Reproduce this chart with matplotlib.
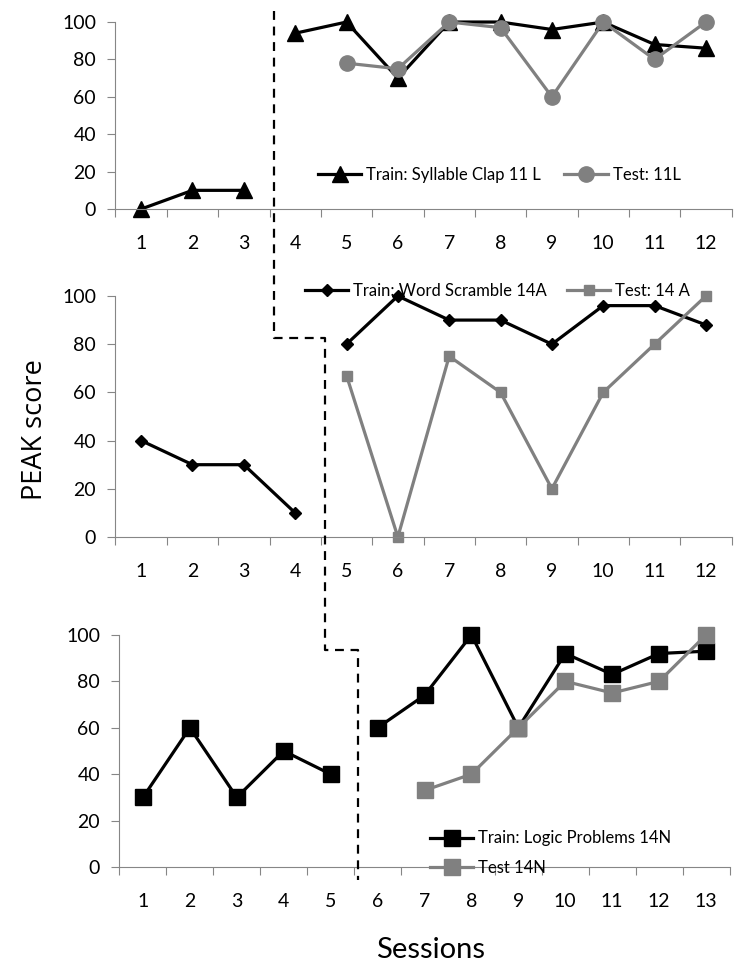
import matplotlib.pyplot as plt
from matplotlib.lines import Line2D

# panel 1: Syllable Clap 11 L
s1 = list(range(1, 13))
train1_base = [0, 10, 10]
train1_int = [94, 100, 70, 100, 100, 96, 100, 88, 86]
test1_sess = [5, 6, 7, 8, 9, 10, 11, 12]
test1 = [78, 75, 100, 97, 60, 100, 80, 100]

# panel 2: Word Scramble 14A
s2 = list(range(1, 13))
train2_base = [40, 30, 30, 10]
train2_int = [80, 100, 90, 90, 80, 96, 96, 88]
test2_sess = [5, 6, 7, 8, 9, 10, 11, 12]
test2 = [67, 0, 75, 60, 20, 60, 80, 100]

# panel 3: Logic Problems 14N
s3 = list(range(1, 14))
train3_base = [30, 60, 30, 50, 40]
train3_int = [60, 74, 100, 60, 92, 83, 92, 93]
test3_sess = [7, 8, 9, 10, 11, 12, 13]
test3 = [33, 40, 60, 80, 75, 80, 100]

# phase change line (x in sessions, step heights)
phase_x = [3.58, 4.58, 5.58]
step_y = [82.6, 93.5]

GRAY = '#808080'
AXC = '#868686'
TICKFONT = 'Lato'

fig = plt.figure(figsize=(7.45, 9.66), dpi=100)
ax1 = fig.add_axes([0.155, 0.7836, 0.827, 0.1936])
ax2 = fig.add_axes([0.155, 0.4441, 0.827, 0.2495])
ax3 = fig.add_axes([0.1604, 0.1025, 0.8188, 0.2402])


def style(ax, n):
    ax.set_xlim(0.5, n + 0.5)
    ax.set_ylim(0, 100)
    ax.set_yticks(range(0, 101, 20))
    ax.set_xticks([i + 0.5 for i in range(0, n + 1)])
    ax.set_xticklabels([])
    ax.set_xticks(range(1, n + 1), minor=True)
    ax.set_xticklabels([str(i) for i in range(1, n + 1)], minor=True,
                       fontfamily=TICKFONT, fontsize=14)
    ax.tick_params(axis='x', which='major', length=6, color=AXC, direction='out')
    ax.tick_params(axis='x', which='minor', length=0, pad=19)
    ax.tick_params(axis='y', length=6, color=AXC, pad=8)
    for lab in ax.get_yticklabels():
        lab.set_fontfamily(TICKFONT)
        lab.set_fontsize(14)
    for sp in ['top', 'right']:
        ax.spines[sp].set_visible(False)
    ax.spines['left'].set_color(AXC)
    ax.spines['bottom'].set_color(AXC)
    ax.patch.set_alpha(0)


lw = 2.3
leg_font = {'family': TICKFONT, 'size': 12}

# panel 1
style(ax1, 12)
ax1.plot(s1[:3], train1_base, color='black', lw=lw, marker='^', ms=11, clip_on=False,
         label='Train: Syllable Clap 11 L')
ax1.plot(s1[3:], train1_int, color='black', lw=lw, marker='^', ms=11, clip_on=False)
ax1.plot(test1_sess, test1, color=GRAY, lw=lw, marker='o', ms=11, clip_on=False,
         label='Test: 11L')
ax1.legend(loc='center left', bbox_to_anchor=(318 / 745, 1 - 175 / 966),
           bbox_transform=fig.transFigure, ncol=2, frameon=False, borderpad=0,
           borderaxespad=0, handlelength=2.6, handletextpad=0.3, columnspacing=1.4,
           prop=leg_font)

# panel 2
style(ax2, 12)
ax2.plot(s2[:4], train2_base, color='black', lw=lw, marker='D', ms=6, clip_on=False,
         label='Train: Word Scramble 14A')
ax2.plot(s2[4:], train2_int, color='black', lw=lw, marker='D', ms=6, clip_on=False)
ax2.plot(test2_sess, test2, color=GRAY, lw=lw, marker='s', ms=7.5, clip_on=False,
         label='Test: 14 A')
ax2.legend(loc='center left', bbox_to_anchor=(305 / 745, 1 - 291 / 966),
           bbox_transform=fig.transFigure, ncol=2, frameon=False, borderpad=0,
           borderaxespad=0, handlelength=2.6, handletextpad=0.3, columnspacing=1.2,
           prop=leg_font)

# panel 3
style(ax3, 13)
ax3.plot(s3[:5], train3_base, color='black', lw=lw, marker='s', ms=11, clip_on=False,
         label='Train: Logic Problems 14N')
ax3.plot(s3[5:], train3_int, color='black', lw=lw, marker='s', ms=11, clip_on=False)
ax3.plot(test3_sess, test3, color=GRAY, lw=lw, marker='s', ms=11, clip_on=False,
         label='Test 14N')
ax3.legend(loc='center left', bbox_to_anchor=(430 / 745, 1 - 853 / 966),
           bbox_transform=fig.transFigure, ncol=1, frameon=False, borderpad=0,
           borderaxespad=0, handlelength=2.6, handletextpad=0.3, labelspacing=0.8,
           prop=leg_font)


# phase change dashed line across the panels (vertical runs stay vertical)
def to_fig(ax, x, y):
    px = ax.transData.transform((x, y))
    return fig.transFigure.inverted().transform(px)


xa = to_fig(ax1, phase_x[0], 0)[0]
xb = to_fig(ax2, phase_x[1], 0)[0]
xc = to_fig(ax3, phase_x[2], 0)[0]
ytop = to_fig(ax1, 0, 106)[1]
y1 = to_fig(ax2, 0, step_y[0])[1]
y2 = to_fig(ax3, 0, step_y[1])[1]
ybot = to_fig(ax3, 0, -5.6)[1]
xs = [xa, xa, xb, xb, xc, xc]
ys = [ytop, y1, y1, y2, y2, ybot]
fig.add_artist(Line2D(xs, ys, transform=fig.transFigure, color='black', lw=1.6,
                      ls=(0, (4, 3))))

fig.text(0.047, 1 - 430 / 966, 'PEAK score', rotation=90, ha='center', va='center',
         fontfamily='Open Sans', fontsize=19.5)
fig.text(431 / 745, 1 - 950 / 966, 'Sessions', ha='center', va='center',
         fontfamily=TICKFONT, fontsize=21)

fig.savefig('out.png', dpi=100)
